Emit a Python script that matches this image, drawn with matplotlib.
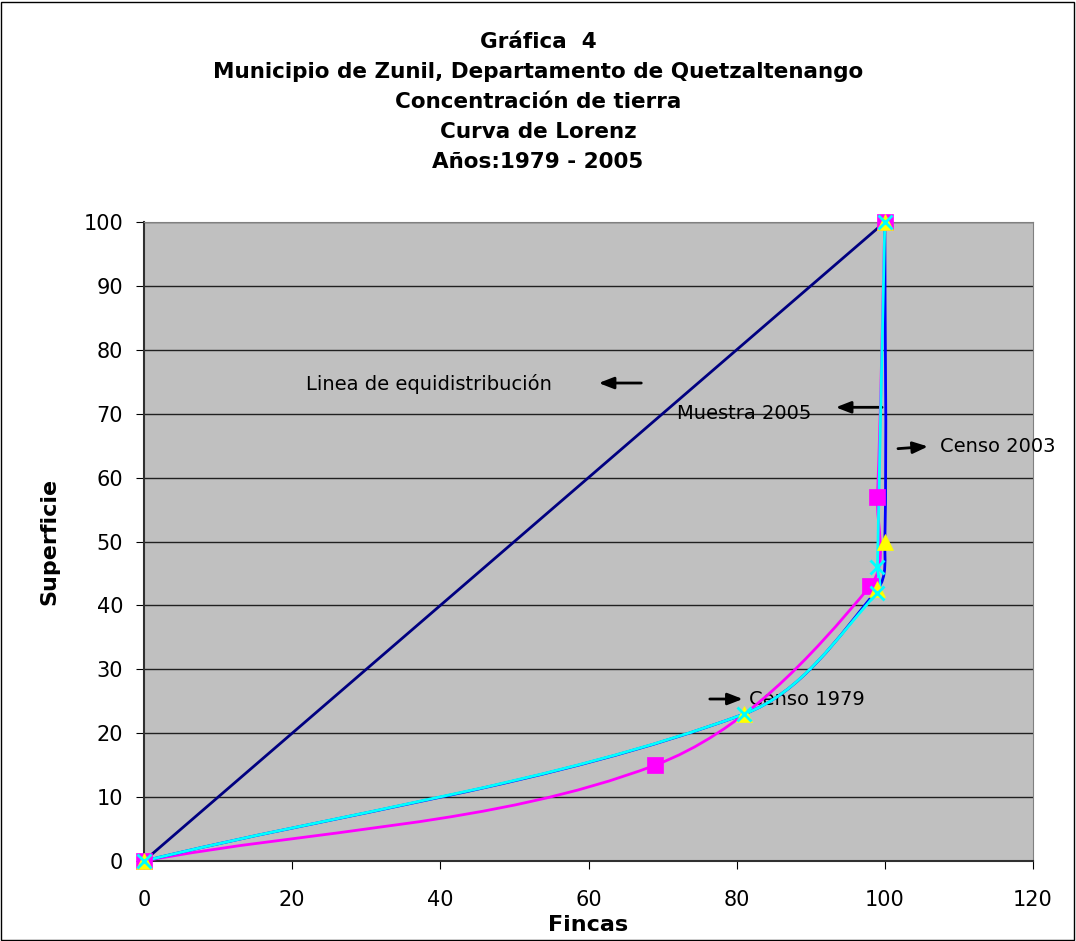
import numpy as np
import matplotlib
matplotlib.use("Agg")
import matplotlib.pyplot as plt
from matplotlib.path import Path
from matplotlib.patches import PathPatch, Rectangle

plt.rcParams['font.family'] = ['DejaVu Sans']

# data
equi_x = [0, 100]
equi_y = [0, 100]

censo79_x = [0, 69, 98, 99, 100]
censo79_y = [0, 15, 43, 57, 100]

censo03_x = [0, 81, 99, 100, 100]
censo03_y = [0, 23, 42.5, 50, 100]

muestra05_x = [0, 81, 99, 99, 100]
muestra05_y = [0, 23, 42, 46, 100]

title_lines = ["Gráfica  4",
               "Municipio de Zunil, Departamento de Quetzaltenango",
               "Concentración de tierra",
               "Curva de Lorenz",
               "Años:1979 - 2005"]

# pixel size of one x unit relative to one y unit on this chart
XSCALE = (889 / 120) / (639 / 100)


def smooth_path(xs, ys):
    # smoothed line like Excel: cubic Bezier, tangents from neighbours,
    # handle length proportional to each segment (no overshoot)
    p = np.column_stack([np.array(xs, float) * XSCALE, ys]).astype(float)
    n = len(p)
    tang = []
    for i in range(n):
        a = p[i - 1] if i > 0 else p[i]
        b = p[i + 1] if i + 1 < n else p[i]
        d = b - a
        nd = np.hypot(*d)
        tang.append(d / nd if nd > 0 else np.zeros(2))
    verts = [p[0]]
    codes = [Path.MOVETO]
    for i in range(n - 1):
        L = np.hypot(*(p[i + 1] - p[i]))
        c1 = p[i] + tang[i] * L / 3
        c2 = p[i + 1] - tang[i + 1] * L / 3
        verts += [c1, c2, p[i + 1]]
        codes += [Path.CURVE4] * 3
    verts = np.array(verts)
    verts[:, 0] /= XSCALE
    return Path(verts, codes)


fig = plt.figure(figsize=(10.76, 9.41), dpi=100)
ax = fig.add_axes([144 / 1076, 1 - 861 / 941, (1033 - 144) / 1076, (861 - 222) / 941])
ax.set_facecolor('#C0C0C0')

ax.plot(equi_x, equi_y, color='#000080', lw=2, zorder=3)

series = [
    (censo79_x, censo79_y, '#FF00FF', 's', '#FF00FF', 11),
    (censo03_x, censo03_y, '#0000FF', '^', '#FFFF00', 11),
    (muestra05_x, muestra05_y, '#00FFFF', 'x', '#00FFFF', 10),
]
for xs, ys, lc, mk, mc, ms in series:
    ax.add_patch(PathPatch(smooth_path(xs, ys), fill=False, edgecolor=lc, lw=2, zorder=4))
for xs, ys, lc, mk, mc, ms in series:
    ax.plot(xs, ys, linestyle='none', marker=mk, color=mc, markersize=ms,
            markeredgewidth=2 if mk == 'x' else 0.5, zorder=5, clip_on=False)

ax.set_xlim(0, 120)
ax.set_ylim(0, 100)
ax.set_xticks(np.arange(0, 121, 20))
ax.set_yticks(np.arange(0, 101, 10))
ax.yaxis.grid(True, color='#202020', lw=1)
ax.set_axisbelow(True)
for s in ['top', 'right']:
    ax.spines[s].set_color('#808080')
for s in ['left', 'bottom']:
    ax.spines[s].set_color('#303030')
    ax.spines[s].set_linewidth(1.5)
ax.tick_params(labelsize=15, direction='out', length=6)
ax.tick_params(axis='y', pad=9)
ax.tick_params(axis='x', pad=15)
ax.set_xlabel('Fincas', fontsize=16, fontweight='bold', va='center')
ax.xaxis.set_label_coords(0.5, -0.1)
ax.set_ylabel('Superficie', fontsize=16, fontweight='bold', va='center')
ax.yaxis.set_label_coords(-0.106, 0.5)

arrow = dict(arrowstyle='-|>,head_length=0.9,head_width=0.35', color='black', lw=2)
ax.annotate('', xy=(61, 74.8), xytext=(67.5, 74.8), arrowprops=arrow)
ax.text(21.8, 74.6, 'Linea de equidistribución', fontsize=14, va='center')
ax.annotate('', xy=(93, 71.0), xytext=(100, 71.0), arrowprops=arrow)
ax.text(72, 70.0, 'Muestra 2005', fontsize=14, va='center')
ax.annotate('', xy=(106.2, 64.9), xytext=(101.4, 64.5), arrowprops=arrow)
ax.text(107.5, 64.8, 'Censo 2003', fontsize=14, va='center')
ax.annotate('', xy=(81.2, 25.35), xytext=(76, 25.35), arrowprops=arrow)
ax.text(81.7, 25.2, 'Censo 1979', fontsize=14, va='center')

for i, line in enumerate(title_lines):
    fig.text(0.5, 1 - (42 + 30 * i) / 941, line, ha='center', va='center',
             fontsize=15.5, fontweight='bold')

fig.patches.append(Rectangle((0.001, 0.001), 0.997, 0.997, transform=fig.transFigure,
                             fill=False, edgecolor='black', lw=1))

fig.savefig('out.png', dpi=100)
